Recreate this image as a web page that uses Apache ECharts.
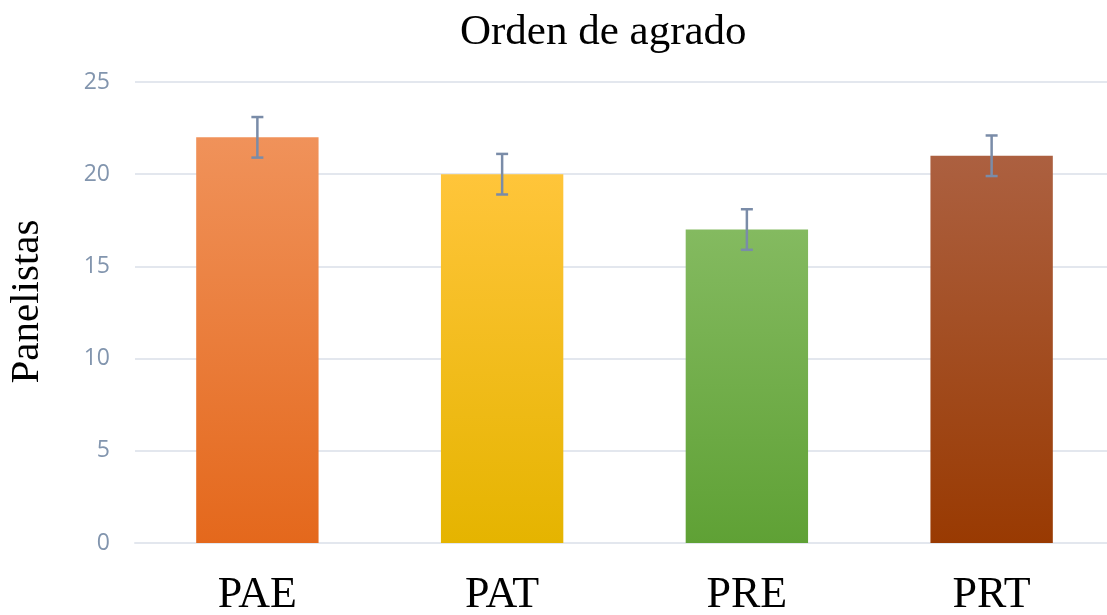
<!DOCTYPE html>
<html><head><meta charset="utf-8">
<script src="https://cdn.jsdelivr.net/npm/echarts@6/dist/echarts.min.js"></script>
<style>html,body{margin:0;padding:0;background:#fff;}#c{width:1107px;height:615px;}</style>
</head><body><div id="c"></div>
<script>
var categories = ['PAE', 'PAT', 'PRE', 'PRT'];
var values = [22, 20, 17, 21];
var errors = [1.1, 1.1, 1.1, 1.1];
var topColors = ['#F0925A', '#FFC53A', '#84BA60', '#AC6040'];
var bottomColors = ['#E4681C', '#E5B400', '#5FA135', '#993A02'];
var yTicks = [0, 5, 10, 15, 20, 25];

var chart = echarts.init(document.getElementById('c'));
chart.setOption({
  animation: false,
  title: {
    text: 'Orden de agrado', left: 455, top: 6,
    textStyle: { fontFamily: 'Liberation Serif', fontSize: 43, fontWeight: 'normal', color: '#000' }
  },
  grid: { left: 135, top: 82, bottom: 72, width: 979, outerBoundsMode: 'none', containLabel: false },
  xAxis: {
    type: 'category', data: categories,
    axisLine: { lineStyle: { color: '#E3E7EE', width: 2 } },
    axisTick: { show: false },
    axisLabel: { fontFamily: 'Liberation Serif', fontSize: 44, color: '#000', margin: 30 }
  },
  yAxis: {
    type: 'value', min: yTicks[0], max: yTicks[yTicks.length - 1], interval: 5,
    name: 'Panelistas', nameLocation: 'middle', nameGap: 87, nameRotate: 90,
    nameTextStyle: { fontFamily: 'Liberation Serif', fontSize: 41, color: '#000', padding: [0, 0, 0, 22] },
    axisLine: { show: false }, axisTick: { show: false },
    axisLabel: { fontFamily: 'Open Sans', fontSize: 23, color: '#8295AE', margin: 25 },
    splitLine: { lineStyle: { color: '#E3E7EE', width: 2 } }
  },
  series: [{
    type: 'bar', barWidth: '50%',
    data: values.map(function (v, i) {
      return {
        value: v,
        itemStyle: {
          color: new echarts.graphic.LinearGradient(0, 0, 0, 1, [
            { offset: 0, color: topColors[i] }, { offset: 1, color: bottomColors[i] }
          ])
        }
      };
    })
  }, {
    type: 'custom', z: 10,
    data: values.map(function (v, i) { return [i, v - errors[i], v + errors[i]]; }),
    renderItem: function (params, api) {
      var lo = api.coord([api.value(0), api.value(1)]);
      var hi = api.coord([api.value(0), api.value(2)]);
      var w = 6;
      var st = { stroke: '#7A8CA8', lineWidth: 2.5 };
      return {
        type: 'group', children: [
          { type: 'line', shape: { x1: hi[0], y1: hi[1], x2: lo[0], y2: lo[1] }, style: st },
          { type: 'line', shape: { x1: hi[0] - w, y1: hi[1], x2: hi[0] + w, y2: hi[1] }, style: st },
          { type: 'line', shape: { x1: lo[0] - w, y1: lo[1], x2: lo[0] + w, y2: lo[1] }, style: st }
        ]
      };
    }
  }]
});
</script></body></html>
